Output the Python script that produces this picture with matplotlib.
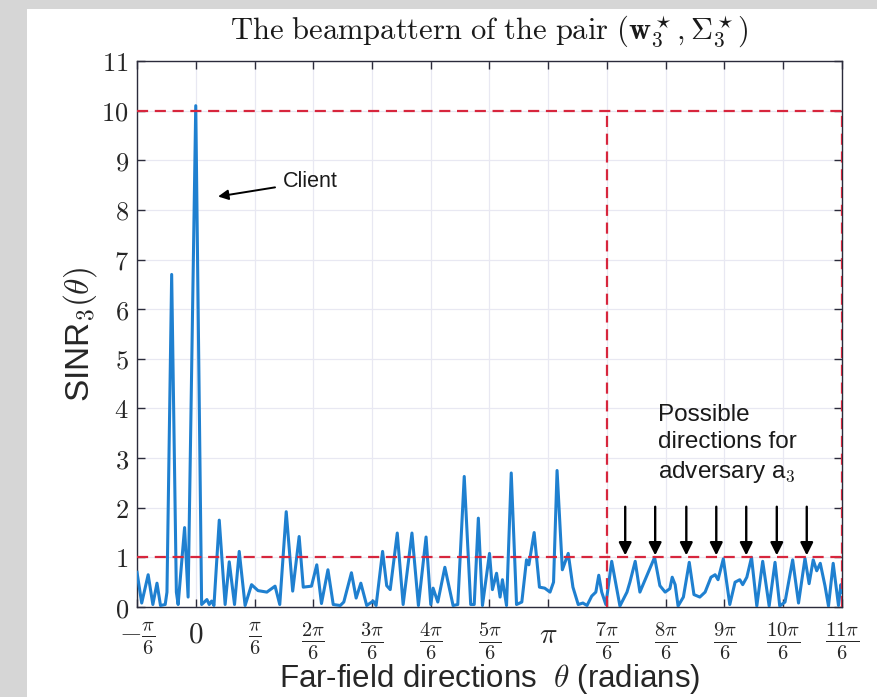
import numpy as np
import matplotlib
matplotlib.use("Agg")
import matplotlib.pyplot as plt
from matplotlib.patches import Rectangle

plt.rcParams['mathtext.fontset'] = 'cm'

# beampattern samples, theta given in units of pi/6
theta_u = [-1.00, -0.92, -0.81, -0.73, -0.66, -0.60, -0.52, -0.49, -0.41, -0.33,
           -0.30, -0.19, -0.13, 0.00, 0.10, 0.19, 0.23, 0.27, 0.31, 0.40,
           0.50, 0.57, 0.66, 0.74, 0.84, 0.95, 1.06, 1.21, 1.35, 1.43,
           1.54, 1.65, 1.76, 1.83, 1.97, 2.06, 2.14, 2.25, 2.34, 2.46,
           2.52, 2.65, 2.73, 2.81, 2.91, 3.02, 3.07, 3.18, 3.25, 3.31,
           3.43, 3.53, 3.68, 3.79, 3.92, 4.00, 4.04, 4.12, 4.24, 4.38,
           4.46, 4.57, 4.68, 4.74, 4.81, 4.88, 5.00, 5.05, 5.12, 5.18,
           5.22, 5.29, 5.37, 5.46, 5.55, 5.63, 5.67, 5.76, 5.85, 5.94,
           6.03, 6.09, 6.15, 6.24, 6.34, 6.42, 6.51, 6.59, 6.66, 6.74,
           6.81, 6.86, 6.91, 6.98, 7.08, 7.22, 7.34, 7.39, 7.48, 7.56,
           7.65, 7.81, 7.90, 7.99, 8.07, 8.11, 8.16, 8.21, 8.30, 8.40,
           8.48, 8.58, 8.67, 8.77, 8.84, 8.89, 8.98, 9.09, 9.18, 9.26,
           9.31, 9.38, 9.46, 9.55, 9.65, 9.76, 9.86, 9.94, 10.03, 10.16,
           10.26, 10.37, 10.44, 10.51, 10.57, 10.63, 10.71, 10.77, 10.85, 10.94,
           10.98, 11.00]
sinr = [0.70, 0.08, 0.65, 0.05, 0.48, 0.03, 0.05, 0.30, 6.70, 0.30,
        0.05, 1.60, 0.20, 10.10, 0.05, 0.15, 0.05, 0.12, 0.03, 1.75,
        0.05, 0.91, 0.05, 1.12, 0.03, 0.45, 0.33, 0.30, 0.42, 0.05,
        1.92, 0.32, 1.42, 0.40, 0.42, 0.85, 0.07, 0.75, 0.05, 0.03,
        0.10, 0.69, 0.18, 0.48, 0.03, 0.12, 0.03, 1.12, 0.43, 0.35,
        1.49, 0.05, 1.49, 0.03, 1.41, 0.05, 0.38, 0.10, 0.80, 0.03,
        0.05, 2.63, 0.05, 0.05, 1.79, 0.03, 1.08, 0.35, 0.68, 0.20,
        0.55, 0.03, 2.70, 0.05, 0.10, 0.95, 0.85, 1.50, 0.40, 0.38,
        0.30, 0.50, 2.75, 0.75, 1.08, 0.40, 0.05, 0.08, 0.03, 0.22,
        0.30, 0.64, 0.30, 0.05, 0.92, 0.02, 0.30, 0.50, 0.92, 0.30,
        0.55, 1.00, 0.43, 0.30, 0.37, 0.60, 0.45, 0.02, 0.20, 0.90,
        0.25, 0.20, 0.30, 0.60, 0.65, 0.55, 0.97, 0.05, 0.50, 0.55,
        0.45, 0.60, 1.00, 0.02, 0.92, 0.02, 0.90, 0.02, 0.10, 0.95,
        0.08, 0.98, 0.47, 0.95, 0.73, 0.88, 0.43, 0.02, 0.88, 0.03,
        0.45, 0.30]

# candidate adversary directions (units of pi/6)
adv_u = [7.31, 7.82, 8.35, 8.86, 9.37, 9.89, 10.40]

tick_k = list(range(-1, 12))
tick_labels = [r'$-\frac{\pi}{6}$', r'$0$', r'$\frac{\pi}{6}$'] + \
              [r'$\frac{%d\pi}{6}$' % k for k in range(2, 6)] + [r'$\pi$'] + \
              [r'$\frac{%d\pi}{6}$' % k for k in range(7, 12)]

u = np.pi / 6
theta = np.array(theta_u) * u

fig = plt.figure(figsize=(8.78, 6.97), dpi=100)
fig.patch.set_facecolor('#d6d6d6')
fig.add_artist(Rectangle((27 / 878, 0), 1, 1 - 9 / 697, transform=fig.transFigure,
                         facecolor='white', edgecolor='none', zorder=-10))
ax = fig.add_axes([137 / 878, 1 - 607 / 697, 705 / 878, 546 / 697])

ax.plot(theta, sinr, color='#1f80d0', lw=2.2, zorder=3)

red = '#d7263d'
dash = dict(color=red, lw=1.6, dashes=(5, 3), zorder=4)
ax.plot([-u, 11 * u], [10, 10], **dash)
ax.plot([-u, 11 * u], [1, 1], **dash)
ax.plot([7 * u, 7 * u], [0, 10], **dash)
ax.plot([11 * u, 11 * u], [0, 10], **dash)

for a in adv_u:
    ax.annotate('', xy=(a * u, 1.04), xytext=(a * u, 2.02),
                arrowprops=dict(arrowstyle='-|>', color='black', lw=1.7,
                                mutation_scale=19, shrinkA=0, shrinkB=0),
                zorder=5)

ax.annotate('Client', xy=(0.38 * u, 8.27), xytext=(1.49 * u, 8.57),
            fontsize=15.5, family='Liberation Sans', va='center', color='#1a1a1a',
            arrowprops=dict(arrowstyle='-|>', color='black', lw=1.4,
                            mutation_scale=15, shrinkA=4, shrinkB=0))
ax.text(7.87 * u, 3.27, 'Possible\ndirections for\nadversary a$_\\mathsf{3}$',
        fontsize=17.5, family='Liberation Sans', va='center', ha='left',
        linespacing=1.3, color='#1a1a1a')

ax.set_xlim(-u, 11 * u)
ax.set_ylim(0, 11)
ax.set_xticks([k * u for k in tick_k])
ax.set_xticklabels(tick_labels, fontsize=21)
ax.set_yticks(range(0, 12))
ax.set_yticklabels([r'$%d$' % k for k in range(0, 12)], fontsize=19)
ax.tick_params(direction='in', top=True, right=True, length=6, width=1,
               color='#2b2b3b', labelcolor='#262626')
ax.tick_params(axis='x', pad=10)
ax.tick_params(axis='y', pad=6)
ax.grid(True, color='#e8e8f2', lw=0.9)
ax.set_axisbelow(True)
for s in ax.spines.values():
    s.set_color('#2b2b3b')
    s.set_linewidth(1.0)

ax.set_title(r'$\mathrm{The\ beampattern\ of\ the\ pair}\ (\mathbf{w}_3^\star,\Sigma_3^\star)$',
             fontsize=22, pad=15, color='#1a1a1a')
ax.set_xlabel(r'Far-field directions  $\theta$ (radians)', fontsize=22.5,
              family='Liberation Sans', color='#262626', labelpad=0)
ax.set_ylabel(r'SINR$_\mathsf{3}(\theta)$', fontsize=24, family='Liberation Sans',
              color='#262626', labelpad=2)

fig.savefig('out.png', dpi=100, facecolor=fig.get_facecolor())
